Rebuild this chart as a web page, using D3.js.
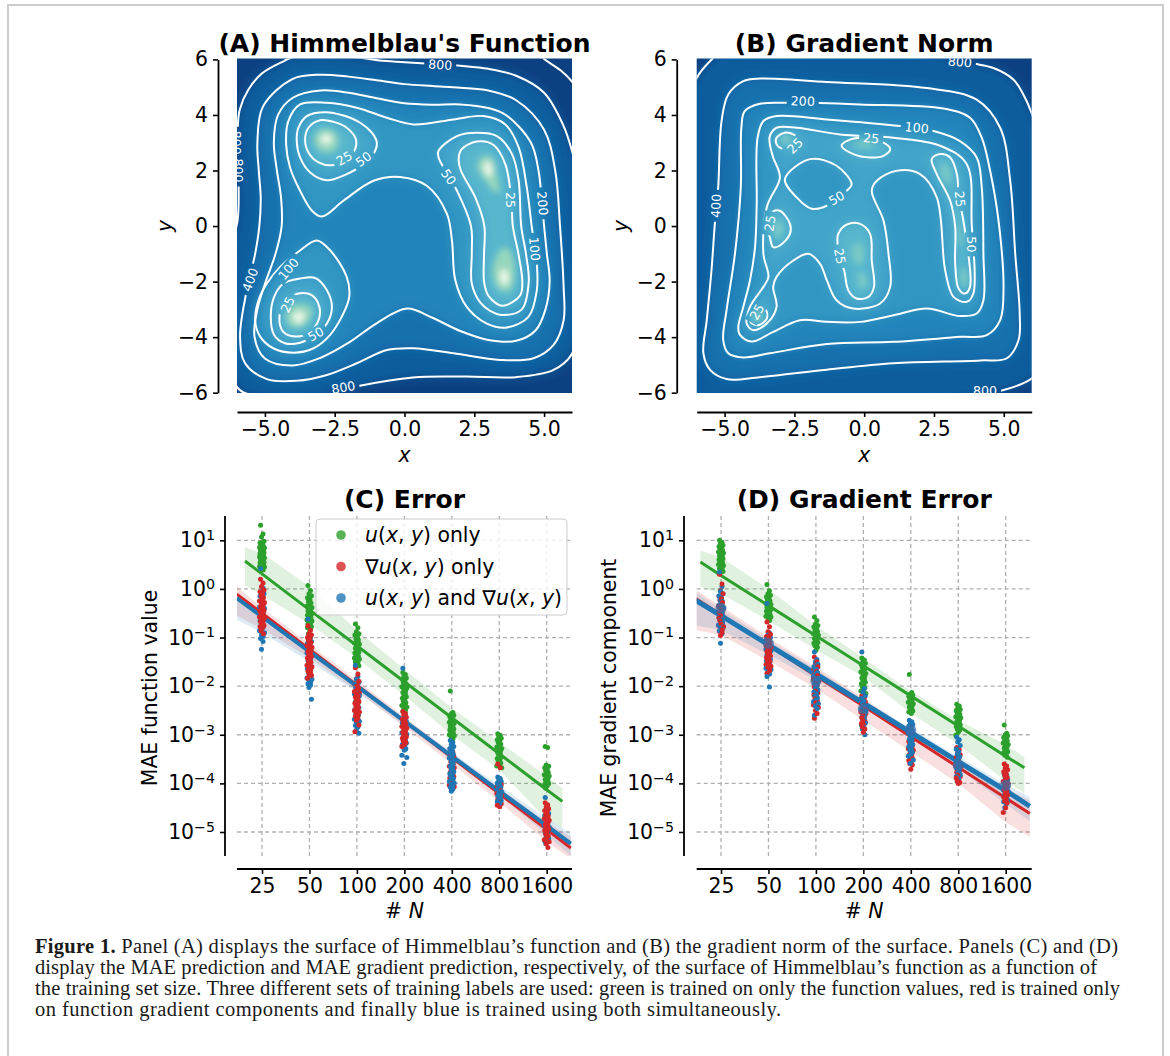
<!DOCTYPE html>
<html>
<head>
<meta charset="utf-8">
<title>Figure 1</title>
<script src="https://cdnjs.cloudflare.com/ajax/libs/d3/7.8.5/d3.min.js"></script>
<style>
body { margin: 0; background: #fff; }
text { font-family: "DejaVu Sans", sans-serif; fill: #000; }
.caption text { font-family: "Liberation Serif", serif; font-size: 20.5px; fill: #1a1a1a; }
</style>
</head>
<body>
<div id="chart"></div>
<script>
// ---- contour lines, [x, y] in data units ----
var aLevel800 = [[-1.5,6.05],[-.9,5.96],[0,5.9],[1.3,5.82],[2,5.77],[3,5.66],[4,5.41],[5,4.8],[5.7,3.6],[6,2.7],[6.2,1.8],[6.27,0],[6.3,-3],[6,-4.6],[5.34,-5.18],[4,-5.44],[2.2,-5.42],[.3,-5.45],[-1.6,-5.75],[-2.6,-6],[-3.2,-6.2],[-4,-6.26],[-5,-6.15],[-5.75,-6],[-6,-5.8],[-6.3,-5],[-6.5,-3],[-6.3,-1],[-5.98,.2],[-5.95,2],[-5.97,3.6],[-5.9,4.2],[-5.6,4.9],[-5.1,5.5],[-4.3,5.95],[-4,6.08],[-3,6.18],[-2,6.1]];
var aLevel1600 = [[4.9,6.1],[5.1,5.94],[5.6,5.6],[6,5.2],[6.2,4.9]];
var aLevel400 = [[-5.2,0],[-5.35,-1],[-5.65,-2.31],[-5.89,-3.98],[-5.71,-4.94],[-4.93,-5.51],[-3.86,-5.57],[-2.78,-5.36],[-1.71,-4.94],[-.63,-4.46],[.32,-4.4],[1.76,-4.58],[3.43,-4.82],[4.62,-4.76],[5.34,-4.28],[5.7,-3.39],[5.7,-2.19],[5.57,0],[5.4,1.99],[5,3.47],[4,4.53],[3,4.88],[2,4.98],[1,5.04],[0,5.11],[-1,5.25],[-2,5.38],[-3,5.45],[-4,5.3],[-5.07,4.3],[-5.27,3],[-5.22,2],[-5.15,1]];
var aLevel200 = [[.09,-2.97],[1,-3.3],[2,-3.78],[3,-4.1],[4,-4.13],[4.7,-3.75],[5.05,-3],[5.2,-2],[5.1,-1],[5,0],[4.91,1],[4.8,2],[4.53,3],[3.63,4],[3,4.25],[2,4.38],[1,4.37],[0,4.42],[-1,4.6],[-2,4.8],[-3,4.88],[-4,4.62],[-4.53,4],[-4.68,3],[-4.57,2],[-4.42,1],[-4.4,0],[-4.62,-1],[-4.97,-2],[-5.27,-3],[-5.37,-4],[-5,-4.77],[-4,-5.02],[-3,-4.74],[-2,-4.2],[-1,-3.5]];
var aLevel100 = [[-2.96,.34],[-2.19,.91],[-1.11,1.63],[-.16,1.77],[.8,1.45],[1.52,.44],[1.7,-.52],[1.82,-1.95],[2.23,-2.91],[2.95,-3.51],[3.67,-3.65],[4.44,-3.27],[4.74,-2.31],[4.74,-1.36],[4.56,-.04],[4.38,1.39],[4.09,2.83],[3.61,3.66],[2.83,3.96],[1.76,3.84],[.32,3.66],[-.63,3.9],[-1.71,4.26],[-2.78,4.44],[-3.74,4.38],[-4.16,3.78],[-4.24,2.94],[-4.1,2.11],[-3.74,1.27],[-3.32,.56]];
var aLevel100Basin = [[-3.14,-.52],[-2.66,-.88],[-2.07,-1.83],[-1.98,-2.55],[-2.25,-3.27],[-2.72,-3.98],[-3.26,-4.4],[-3.98,-4.56],[-4.7,-4.4],[-5.17,-3.98],[-5.35,-3.39],[-5.23,-2.67],[-4.93,-2.07],[-4.46,-1.48],[-3.74,-.88]];
var aLevel50Top = [[-.99,3],[-1.17,3.36],[-1.59,3.72],[-2.19,3.98],[-2.84,4.1],[-3.5,3.96],[-3.8,3.54],[-3.86,3.06],[-3.74,2.47],[-3.38,1.93],[-2.78,1.65],[-2.07,1.87],[-1.47,2.23],[-1.05,2.71]];
var aLevel50Right = [[1.22,2.71],[1.88,3.24],[2.59,3.36],[3.31,3.24],[3.85,2.59],[4.09,1.63],[4.18,0],[4.35,-1],[4.45,-2],[4.2,-3],[3.5,-3.2],[3.07,-3.05],[2.71,-2.75],[2.41,-2.07],[2.41,-1],[2.38,0],[1.88,1.27],[1.58,1.81],[1.22,2.47]];
var aLevel50Low = [[-3.74,-1.89],[-3.2,-1.87],[-2.78,-2.31],[-2.6,-2.91],[-2.78,-3.51],[-3.2,-3.92],[-3.74,-4.2],[-4.28,-4.22],[-4.67,-3.92],[-4.79,-3.27],[-4.67,-2.55],[-4.34,-2.07]];
var aLevel25Top = [[-1.74,3.12],[-2.07,3.54],[-2.54,3.75],[-3.02,3.81],[-3.44,3.54],[-3.56,3.12],[-3.44,2.65],[-3.08,2.29],[-2.6,2.19],[-2.07,2.41],[-1.77,2.77]];
var aLevel25Right = [[2.02,2],[1.94,2.41],[2.05,2.77],[2.59,3.04],[3.19,2.92],[3.61,2.23],[3.82,1],[3.88,0],[4.08,-1],[4.22,-2],[4.14,-2.5],[3.5,-2.87],[3,-2.5],[2.85,-2],[2.85,-1],[2.86,0],[2.55,1]];
var aLevel25Low = [[-3.8,-2.43],[-3.32,-2.49],[-3.05,-2.91],[-3.08,-3.39],[-3.38,-3.81],[-3.86,-3.98],[-4.34,-3.81],[-4.48,-3.27],[-4.28,-2.73],[-4.04,-2.55]];
// brighter cores around the minima, fill only
var aCore10Top = [[-2.35,3.1],[-2.6,3.45],[-3.05,3.45],[-3.25,3.1],[-3,2.7],[-2.55,2.7]];
var aCore10Low = [[-3.3,-3.05],[-3.5,-2.85],[-3.95,-2.85],[-4.25,-3.3],[-4,-3.65],[-3.55,-3.55]];
var aCore10Up = [[2.6,2.1],[2.78,2.5],[3.15,2.45],[3.32,1.75],[3.4,1.2],[3.15,1.3],[2.9,1.65]];
var aCore10Dn = [[3.35,-1],[3.15,-1.6],[3.35,-2.25],[3.75,-2.35],[3.95,-1.8],[3.85,-1.05],[3.6,-.75]];
var aCore2Top = [[-2.6,3.13],[-2.8,3.32],[-3,3.13],[-2.8,2.94]];
var aCore2Low = [[-3.58,-3.28],[-3.78,-3.06],[-4,-3.28],[-3.78,-3.5]];
var aCore2Up = [[2.85,2.15],[3,2.35],[3.15,2],[3,1.75]];
var aCore2Dn = [[3.42,-1.7],[3.58,-1.55],[3.74,-1.9],[3.55,-2.15]];

// ---- contour lines ----
var bLevel800 = [[-6,5.33],[-5.5,5.96],[-5.2,6.2],[-2,6.4],[2,6.3],[2.96,6.05],[3.43,5.93],[3.97,5.84],[4.63,5.69],[5.35,5.27],[5.7,4.74],[5.97,4.14],[6.3,3],[6.4,-3],[6.3,-5],[5.97,-5.51],[4.93,-5.92],[4.2,-6.05],[2,-6.4],[-6.4,-6.4],[-6.4,4]];
var bLevel400 = [[-5.23,1.39],[-5.11,3.78],[-4.87,4.74],[-4.33,5.22],[-3.73,5.31],[-1.34,5.19],[2.24,4.97],[4.03,4.55],[4.87,3.54],[5.23,1.63],[5.41,-1],[5.57,-3.15],[5.53,-4.1],[5.11,-4.76],[4.16,-4.84],[1.05,-4.94],[-1.34,-5.17],[-3.73,-5.44],[-4.93,-5.51],[-5.52,-5.18],[-5.76,-4.58],[-5.64,-3.39],[-5.47,-1.59],[-5.35,.08]];
var bLevel200 = [[-2.78,4.44],[-3.74,4.4],[-4.28,4.14],[-4.4,3.54],[-4.42,1.39],[-4.63,-1],[-4.93,-3.03],[-5.05,-4.1],[-4.87,-4.58],[-4.33,-4.73],[-3.38,-4.58],[-1.34,-4.25],[1.05,-4.17],[3.44,-3.99],[4.39,-3.93],[4.87,-3.39],[4.99,-2.2],[4.81,.2],[4.51,1.99],[4.21,3.18],[3.79,3.9],[2.84,4.23],[-.15,4.38],[-1.6,4.43]];
var bLevel100 = [[2.48,3.42],[3.43,3.06],[4.03,2.47],[4.21,1.39],[4.27,-1],[4.27,-2.67],[4.03,-3.15],[3.43,-3.24],[2.24,-2.97],[1.05,-3.21],[-.15,-3.45],[-1.34,-3.45],[-2.3,-3.39],[-3.26,-3.81],[-4.03,-4.16],[-4.45,-3.92],[-4.51,-3.63],[-4.33,-2.91],[-4.09,-1.95],[-3.91,-.76],[-3.85,.79],[-3.82,3.18],[-3.61,3.78],[-3.14,3.96],[-1.34,3.84],[1.28,3.6]];
var bLevel50 = [[-3.38,3.24],[-3.14,3.54],[-2.42,3.54],[-.87,3.3],[1.05,3.18],[2.72,2.89],[3.67,2.23],[3.85,.08],[3.91,-2.43],[3.67,-2.73],[3.2,-2.55],[2.9,-1.59],[2.6,1.03],[2,1.87],[1.16,1.99],[.45,1.63],[.27,1.27],[.69,.2],[.87,-1],[.93,-2.19],[.57,-2.79],[-.39,-2.97],[-.99,-2.67],[-1.34,-1.95],[-1.58,-1.36],[-2,-1],[-2.54,-1.24],[-3.14,-1.83],[-3.26,-2.19],[-3.14,-2.91],[-3.49,-3.51],[-3.97,-3.75],[-4.21,-3.51],[-4.09,-2.91],[-3.61,-2.19],[-3.43,-1.83],[-3.61,-1],[-3.49,.68],[-3.02,1.75],[-3.26,2.47],[-3.38,2.95]];
var bLevel50Hole = [[-2.84,1.69],[-1.94,2.41],[-.99,2.17],[-.45,1.51],[-.63,1.27],[-1.34,.73],[-1.88,.62],[-2.42,1.03]];
var bLevel25Corner = [[-2.9,2.77],[-3.14,2.95],[-3.14,3.18],[-2.84,3.36],[-2.54,3.3],[-2.24,3],[-2.54,2.77]];
var bLevel25Top = [[-.81,2.89],[-.63,3.06],[-.03,3.18],[.69,3],[.93,2.77],[.69,2.53],[.21,2.47],[-.39,2.59]];
var bLevel25Right = [[2.42,2.41],[2.72,2.59],[3.08,2.47],[3.32,1.87],[3.38,1.15],[3.55,.2],[3.73,-1],[3.79,-2.19],[3.61,-2.43],[3.38,-2.25],[3.26,-1.36],[3.26,-.04],[3.08,.91],[2.6,1.87]];
var bLevel25Left = [[-3.02,.55],[-2.66,.08],[-2.66,-.28],[-3.02,-.7],[-3.26,-.76],[-3.38,-.4],[-3.52,.2],[-3.26,.53]];
var bLevel25Mid = [[-.93,-.28],[-.63,.05],[-.15,.08],[.21,-.28],[.27,-1.24],[.35,-2.19],[.15,-2.55],[-.27,-2.61],[-.57,-2.31],[-.72,-1.59],[-.87,-1.24],[-.96,-.52]];
var bLevel25Low = [[-4.03,-3.09],[-3.79,-2.91],[-3.52,-3.03],[-3.49,-3.33],[-3.79,-3.57],[-4.07,-3.45]];
var bCore15Corner = [[-3,3.2],[-2.8,3.3],[-2.6,3.1],[-2.85,2.95]];
var bCore15Top = [[-.4,3],[0,3.08],[.4,3],[0,2.82]];
var bCore15Up = [[2.75,2.2],[2.95,2.22],[3.1,1.7],[2.95,1.5],[2.8,1.8]];
var bCore15Right = [[3.32,.7],[3.45,0],[3.52,-.7],[3.38,-.6],[3.34,.1]];
var bCore15Dn = [[3.5,-1.5],[3.66,-1.6],[3.68,-2.15],[3.48,-2.1]];
var bCore15Left = [[-3.22,.05],[-3,.18],[-2.92,-.2],[-3.12,-.45]];
var bCore15Mid = [[-.4,-.7],[-.12,-.6],[-.02,-1.2],[-.2,-1.4],[-.38,-1.2]];
var bCore15MidDn = [[-.2,-1.7],[0,-1.7],[.08,-2.15],[-.12,-2.25]];
var bCore15Low = [[-3.95,-3.2],[-3.7,-3.1],[-3.7,-3.33],[-3.9,-3.45]];

// contour labels: text, x, y, angle
var aLabels = [["800",1.28,5.81,3],["800",-5.95,2,90],["800",-6,3,90],["800",-2.19,-5.81,-10],["400",-5.53,-1.93,-70],["200",4.95,.82,85],["100",4.66,-.82,85],["100",-4.16,-1.54,-50],["50",1.58,1.77,55],["25",3.79,.94,90],["25",-2.16,2.44,-30],["50",-1.47,2.41,-35],["25",-4.19,-2.83,-65],["50",-3.18,-3.89,-30]];
var bLabels = [["200",-2.2,4.5,2],["100",1.88,3.54,6],["800",3.43,5.91,5],["800",4.33,-5.92,0],["400",-5.31,.73,-88],["50",-.99,1.01,-30],["50",3.85,-.66,90],["25",-2.48,2.89,-45],["25",.25,3.16,5],["25",3.43,.97,85],["25",-3.38,.1,-80],["25",-.87,-1.09,80],["25",-3.85,-3.09,-60]];

// band value -> position on the colour map
var bandLevels = [2,10,15,25,50,100,200,400,800];
var bandShades = [.03,.42,.5,.6,.67,.72,.78,.85,.91];

// ---- training set sizes and log10 of each scatter point, one row per size ----
var sizes = [25,50,100,200,400,800,1600];

var cGreen = [
[1.31,1.13,1.07,.98,.95,.93,.9,.88,.87,.85,.84,.82,.81,.79,.78,.76,.75,.73,.72,.7,.69,.67,.66,.64,.63,.61,.6,.58,.57,.55,.54,.52,.51,.49,.48,.46,.45,.42,.39],
[.07,-.03,-.1,-.14,-.18,-.22,-.26,-.29,-.32,-.35,-.38,-.4,-.43,-.45,-.48,-.5,-.52,-.54,-.56,-.58,-.6,-.62,-.64,-.66,-.68,-.7,-.72,-.74,-.76,-.78,-.8,-.85,-.92],
[-.72,-.8,-.88,-.92,-.95,-.99,-1.02,-1.05,-1.08,-1.11,-1.14,-1.17,-1.2,-1.22,-1.25,-1.27,-1.3,-1.32,-1.34,-1.36,-1.38,-1.4,-1.42,-1.44,-1.46,-1.48,-1.5,-1.52,-1.54,-1.58],
[-1.72,-1.76,-1.8,-1.83,-1.86,-1.89,-1.92,-1.95,-1.98,-2.01,-2.04,-2.07,-2.1,-2.13,-2.16,-2.19,-2.22,-2.25,-2.28,-2.31,-2.34,-2.37,-2.4,-2.43,-2.46,-2.49,-2.52,-2.56],
[-2.1,-2.54,-2.57,-2.6,-2.63,-2.66,-2.68,-2.7,-2.72,-2.74,-2.76,-2.78,-2.8,-2.82,-2.84,-2.86,-2.88,-2.9,-2.92,-2.94,-2.96,-2.98,-3,-3.02,-3.05,-3.08],
[-2.98,-3.01,-3.04,-3.07,-3.1,-3.13,-3.16,-3.19,-3.22,-3.25,-3.28,-3.31,-3.34,-3.37,-3.4,-3.43,-3.46,-3.49,-3.52,-3.55,-3.58,-3.61,-3.64,-3.68],
[-3.24,-3.26,-3.62,-3.65,-3.68,-3.71,-3.74,-3.77,-3.8,-3.82,-3.85,-3.87,-3.9,-3.92,-3.95,-3.97,-4,-4.02,-4.05,-4.1]];
var cRed = [
[.2,.12,.05,-.02,-.06,-.1,-.14,-.18,-.22,-.25,-.28,-.3,-.33,-.36,-.39,-.42,-.44,-.46,-.48,-.5,-.53,-.55,-.58,-.6,-.62,-.64,-.67,-.7,-.73,-.75,-.78,-.8,-.86,-.92],
[-.76,-.85,-.92,-.95,-1,-1.02,-1.06,-1.1,-1.14,-1.17,-1.2,-1.24,-1.27,-1.3,-1.33,-1.36,-1.39,-1.42,-1.45,-1.48,-1.51,-1.54,-1.57,-1.6,-1.63,-1.66,-1.69,-1.72,-1.75,-1.78,-1.84],
[-1.62,-1.75,-1.85,-1.9,-1.95,-1.99,-2.02,-2.05,-2.08,-2.11,-2.14,-2.17,-2.2,-2.23,-2.26,-2.29,-2.32,-2.35,-2.38,-2.41,-2.44,-2.47,-2.5,-2.53,-2.56,-2.59,-2.62,-2.66,-2.7,-2.8,-2.94],
[-2.52,-2.56,-2.6,-2.64,-2.68,-2.71,-2.74,-2.77,-2.8,-2.83,-2.86,-2.89,-2.92,-2.95,-2.98,-3.01,-3.04,-3.07,-3.1,-3.13,-3.16,-3.2,-3.24],
[-3.3,-3.36,-3.4,-3.44,-3.48,-3.52,-3.56,-3.59,-3.62,-3.65,-3.68,-3.71,-3.74,-3.77,-3.8,-3.83,-3.86,-3.89,-3.92,-3.95,-3.98,-4.01,-4.04,-4.07,-4.1],
[-3.6,-3.68,-4,-4.03,-4.06,-4.09,-4.12,-4.15,-4.18,-4.21,-4.24,-4.27,-4.3,-4.33,-4.36,-4.39,-4.42,-4.45,-4.48],
[-4.4,-4.44,-4.48,-4.52,-4.56,-4.6,-4.64,-4.67,-4.7,-4.73,-4.76,-4.79,-4.82,-4.85,-4.88,-4.91,-4.94,-4.97,-5,-5.04,-5.08,-5.12,-5.16,-5.2,-5.24,-5.32]];
var cBlue = [
[.42,.02,-.05,-.1,-.15,-.2,-.25,-.29,-.33,-.37,-.4,-.44,-.48,-.52,-.56,-.6,-.63,-.66,-.7,-.74,-.78,-.82,-.86,-.9,-.94,-.98,-1.02,-1.08,-1.24],
[-.62,-1,-1.04,-1.08,-1.12,-1.16,-1.2,-1.24,-1.28,-1.32,-1.36,-1.4,-1.44,-1.48,-1.52,-1.56,-1.6,-1.64,-1.68,-1.72,-1.76,-1.8,-1.83,-1.86,-1.89,-1.92,-1.95,-1.98,-2.03,-2.27],
[-1.57,-1.8,-1.86,-1.92,-1.96,-2,-2.04,-2.08,-2.12,-2.16,-2.2,-2.24,-2.28,-2.32,-2.36,-2.4,-2.44,-2.48,-2.52,-2.56,-2.6,-2.64,-2.68,-2.72,-2.75,-2.78,-2.81,-2.84,-2.9,-2.97],
[-1.63,-2.62,-2.67,-2.72,-2.76,-2.8,-2.84,-2.88,-2.92,-2.96,-2.99,-3.02,-3.05,-3.08,-3.11,-3.14,-3.17,-3.2,-3.23,-3.26,-3.29,-3.32,-3.42,-3.47,-3.59],
[-3.12,-3.16,-3.2,-3.24,-3.28,-3.32,-3.36,-3.4,-3.44,-3.48,-3.52,-3.56,-3.6,-3.64,-3.68,-3.72,-3.76,-3.8,-3.84,-3.87,-3.9,-3.93,-3.96,-3.99,-4.02,-4.05,-4.08,-4.12,-4.16],
[-3.87,-3.9,-3.93,-3.96,-3.99,-4.02,-4.05,-4.08,-4.11,-4.14,-4.17,-4.2,-4.23,-4.26,-4.29,-4.32,-4.35,-4.38,-4.41],
[-4.29,-4.5,-4.56,-4.62,-4.66,-4.7,-4.74,-4.78,-4.82,-4.86,-4.9,-4.94,-4.98,-5.02,-5.06,-5.1,-5.14,-5.18,-5.21,-5.24]];

var dGreen = [
[1,.96,.93,.9,.87,.85,.82,.8,.78,.76,.74,.72,.7,.68,.66,.64,.62,.6,.58,.56,.54,.52,.5,.48,.46,.44,.42,.4,.38,.36,.32],
[.09,-.04,-.1,-.13,-.16,-.19,-.22,-.25,-.28,-.3,-.32,-.34,-.36,-.38,-.4,-.42,-.44,-.46,-.48,-.5,-.52,-.54,-.56,-.58,-.6,-.65],
[-.58,-.65,-.72,-.75,-.78,-.81,-.84,-.87,-.9,-.92,-.95,-.97,-1,-1.02,-1.05,-1.07,-1.1,-1.12,-1.15,-1.17,-1.2,-1.26],
[-1.42,-1.46,-1.5,-1.53,-1.56,-1.59,-1.62,-1.65,-1.68,-1.71,-1.74,-1.77,-1.8,-1.83,-1.86,-1.89,-1.92,-1.95,-1.98,-2.01,-2.04,-2.07,-2.1,-2.15],
[-1.76,-2.13,-2.16,-2.18,-2.21,-2.23,-2.26,-2.28,-2.31,-2.33,-2.36,-2.38,-2.41,-2.43,-2.46,-2.48,-2.51,-2.53,-2.56],
[-2.37,-2.41,-2.45,-2.48,-2.5,-2.53,-2.55,-2.58,-2.6,-2.63,-2.65,-2.68,-2.7,-2.73,-2.75,-2.78,-2.8,-2.83,-2.85,-2.88,-2.9,-2.95,-3.01],
[-2.8,-2.97,-3,-3.02,-3.05,-3.07,-3.1,-3.12,-3.15,-3.17,-3.2,-3.22,-3.25,-3.27,-3.3,-3.32,-3.35,-3.37,-3.4,-3.42,-3.46]];
var dRed = [
[.3,.1,-.03,-.1,-.15,-.2,-.24,-.28,-.32,-.36,-.39,-.42,-.45,-.48,-.51,-.54,-.57,-.6,-.63,-.66,-.69,-.72,-.75,-.78,-.81,-.84,-.87,-.9,-.96],
[-.68,-.78,-.88,-.93,-.98,-1.02,-1.06,-1.1,-1.14,-1.17,-1.2,-1.23,-1.26,-1.29,-1.32,-1.35,-1.38,-1.41,-1.44,-1.47,-1.5,-1.53,-1.56,-1.59,-1.62,-1.68,-1.74],
[-1.4,-1.5,-1.55,-1.6,-1.65,-1.7,-1.74,-1.78,-1.82,-1.86,-1.9,-1.94,-1.98,-2.02,-2.06,-2.1,-2.14,-2.18,-2.22,-2.26,-2.3,-2.34,-2.39,-2.44,-2.5,-2.56,-2.66],
[-2.2,-2.24,-2.28,-2.32,-2.36,-2.4,-2.44,-2.47,-2.5,-2.53,-2.56,-2.59,-2.62,-2.65,-2.68,-2.71,-2.74,-2.77,-2.8,-2.84,-2.88,-2.95],
[-2.98,-3.02,-3.06,-3.1,-3.14,-3.17,-3.2,-3.23,-3.26,-3.29,-3.32,-3.35,-3.38,-3.41,-3.44,-3.47,-3.5,-3.53,-3.56,-3.59,-3.62,-3.71],
[-3.26,-3.31,-3.36,-3.41,-3.46,-3.5,-3.54,-3.58,-3.62,-3.65,-3.68,-3.71,-3.74,-3.77,-3.8,-3.83,-3.86,-3.89,-3.92,-3.95,-3.98,-4],
[-3.6,-3.64,-3.68,-3.72,-3.76,-3.8,-3.84,-3.88,-3.92,-3.96,-4,-4.04,-4.08,-4.12,-4.16,-4.2,-4.24,-4.28,-4.32,-4.36,-4.4,-4.5,-4.6]];
var dBlue = [
[.35,.05,-.05,-.1,-.14,-.18,-.22,-.26,-.3,-.34,-.38,-.41,-.44,-.47,-.5,-.53,-.56,-.59,-.62,-.65,-.68,-.71,-.74,-.77,-.8,-.83,-.86,-.92,-1.12],
[-.3,-.9,-.95,-1,-1.04,-1.08,-1.12,-1.16,-1.2,-1.24,-1.27,-1.3,-1.33,-1.36,-1.39,-1.42,-1.45,-1.48,-1.51,-1.54,-1.57,-1.6,-1.63,-1.66,-1.7,-1.75,-1.8,-2.02],
[-1.3,-1.45,-1.5,-1.55,-1.6,-1.65,-1.69,-1.72,-1.76,-1.8,-1.84,-1.88,-1.92,-1.96,-2,-2.04,-2.08,-2.12,-2.16,-2.2,-2.24,-2.28,-2.32,-2.36,-2.41,-2.46,-2.6],
[-1.3,-2.05,-2.12,-2.2,-2.25,-2.3,-2.35,-2.4,-2.44,-2.48,-2.52,-2.56,-2.6,-2.64,-2.68,-2.72,-2.76,-2.8,-2.84,-2.88,-3],
[-2.7,-2.73,-2.76,-2.79,-2.82,-2.85,-2.88,-2.91,-2.94,-2.97,-3,-3.03,-3.06,-3.09,-3.12,-3.16,-3.2,-3.24,-3.28,-3.32,-3.36,-3.4,-3.44,-3.52,-3.59],
[-3.05,-3.1,-3.15,-3.22,-3.3,-3.35,-3.4,-3.45,-3.5,-3.54,-3.58,-3.62,-3.66,-3.7,-3.74,-3.78,-3.82,-3.86,-3.9,-3.96],
[-3.8,-3.84,-3.88,-3.92,-3.96,-4,-4.04,-4.07,-4.1,-4.13,-4.16,-4.19,-4.22,-4.25,-4.28,-4.31,-4.34,-4.38,-4.42,-4.5]];
var dBlueCentres = [-.4,-1.12,-1.9,-2.46,-2.9,-3.63,-4.04];

// ---- fit lines and their bands, log10 at each N ----
var greenFitC = [19.5,25,50,100,200,400,800,1600,2011];
var cGreenLine = [.574,.31,-.43,-1.17,-1.91,-2.65,-3.39,-4.13,-4.37];
var cGreenHi = [.86,.74,.05,-.85,-1.65,-2.45,-3.15,-3.85,-4.1];
var cGreenLo = [.07,-.12,-.72,-1.42,-2.2,-3,-3.72,-4.75,-4.93];
var wideFit = [17.3,25,50,100,200,400,800,1600,2275];
var cBlueLine = [-.19,-.57,-1.29,-2,-2.72,-3.44,-4.16,-4.87,-5.24];
var cBlueHi = [-.08,-.47,-1.2,-1.93,-2.66,-3.36,-4.05,-4.72,-5.03];
var cBlueLo = [-.63,-.9,-1.5,-2.12,-2.8,-3.52,-4.25,-5.05,-5.5];
var cRedLine = [-.11,-.5,-1.24,-1.98,-2.72,-3.47,-4.21,-4.95,-5.33];
var cRedHi = [.05,-.38,-1.14,-1.88,-2.63,-3.38,-4.1,-4.8,-5.1];
var cRedLo = [-.55,-.82,-1.42,-2.1,-2.84,-3.6,-4.38,-5.2,-5.55];
var greenFitD = [18.5,25,50,100,200,400,800,1600,2102];
var dGreenLine = [.553,.275,-.344,-.963,-1.58,-2.2,-2.82,-3.44,-3.68];
var dGreenHi = [.79,.65,0,-.75,-1.42,-2.1,-2.7,-3.2,-3.46];
var dGreenLo = [.04,-.1,-.65,-1.25,-1.8,-2.55,-3.2,-3.95,-4.2];
var dBlueLine = [-.235,-.55,-1.15,-1.75,-2.35,-2.95,-3.55,-4.15,-4.47];
var dBlueHi = [-.06,-.42,-1.05,-1.65,-2.28,-2.87,-3.45,-4.02,-4.28];
var dBlueLo = [-.75,-.85,-1.35,-1.88,-2.42,-3.05,-3.7,-4.42,-4.78];
var dRedLine = [-.2,-.53,-1.16,-1.79,-2.41,-3.04,-3.67,-4.3,-4.62];
var dRedHi = [-.02,-.35,-1,-1.6,-2.25,-2.9,-3.5,-4.1,-4.35];
var dRedLo = [-.85,-.95,-1.48,-2.05,-2.7,-3.35,-4,-4.8,-5.1];

var errorTicks = [1e-5,1e-4,1e-3,1e-2,1e-1,1,10];
var surfaceTicksX = [-5,-2.5,0,2.5,5];
var surfaceTicksY = [-6,-4,-2,0,2,4,6];
var captionLines = [
  " Panel (A) displays the surface of Himmelblau’s function and (B) the gradient norm of the surface. Panels (C) and (D)",
  "display the MAE prediction and MAE gradient prediction, respectively, of the surface of Himmelblau’s function as a function of",
  "the training set size. Three different sets of training labels are used: green is trained on only the function values, red is trained only",
  "on function gradient components and finally blue is trained using both simultaneously."
];
var captionWidths = [1083,1062,1085,746];

var GREEN = "#2ca02c", RED = "#d62728", BLUE = "#1f77b4";
var TICK_FONT = 20.4;
// fixed sideways offset of the strip dots, cycled
var stripOffset = [-1.5,1,-.5,2,-2,.5,-1,1.5,0,-2.5,2.5,-.5,1.2];

var svg = d3.select("#chart").append("svg")
  .attr("width", 1170).attr("height", 1056)
  .style("display", "block");

// page frame
svg.append("rect").attr("x", 8).attr("y", 5).attr("width", 1155).attr("height", 1100)
  .attr("fill", "none").attr("stroke", "#cccccc").attr("stroke-width", 2);

var defs = svg.append("defs");
function blurFilter(id, amount) {
  defs.append("filter").attr("id", id)
    .attr("filterUnits", "userSpaceOnUse")
    .attr("x", 100).attr("y", -100).attr("width", 1100).attr("height", 700)
    .append("feGaussianBlur").attr("stdDeviation", amount);
}
blurFilter("soften", 5.5);
blurFilter("softenCore", 3.2);

var bandShade = d3.scaleOrdinal(bandLevels, bandShades);

function styleAxis(g, size) {
  g.selectAll(".domain").attr("stroke-width", 1.8).attr("stroke", "#000");
  g.selectAll(".tick line").attr("stroke-width", 1.6).attr("stroke", "#000");
  g.selectAll(".tick text").attr("font-size", size).attr("font-family", "DejaVu Sans");
}

function surfacePanel(id, left, axisX, title, yLabelX, table, labels) {
  var x = d3.scaleLinear().domain([-6, 6]).range([left, left + 335]);
  var y = d3.scaleLinear().domain([-6, 6]).range([392.7, 59.4]);
  var g = svg.append("g");

  defs.append("clipPath").attr("id", "clip" + id).append("rect")
    .attr("x", left).attr("y", 58.4).attr("width", 335).attr("height", 334.6);

  // gaps in the contour lines behind the labels
  var mask = defs.append("mask").attr("id", "gaps" + id)
    .attr("maskUnits", "userSpaceOnUse")
    .attr("x", left - 60).attr("y", 0).attr("width", 460).attr("height", 460);
  mask.append("rect").attr("x", left - 60).attr("y", 0).attr("width", 460).attr("height", 460).attr("fill", "#fff");
  labels.forEach(function(d) {
    var w = d[0].length * 8 + 8;
    mask.append("rect").attr("x", -w / 2).attr("y", -7).attr("width", w).attr("height", 14).attr("fill", "#000")
      .attr("transform", "translate(" + x(d[1]) + "," + y(d[2]) + ") rotate(" + d[3] + ")");
  });

  var closed = d3.line().x(function(d) { return x(d[0]); }).y(function(d) { return y(d[1]); })
    .curve(d3.curveCatmullRomClosed.alpha(.5));
  var open = d3.line().x(function(d) { return x(d[0]); }).y(function(d) { return y(d[1]); })
    .curve(d3.curveCatmullRom.alpha(.5));

  var plot = g.append("g").attr("clip-path", "url(#clip" + id + ")");
  var heat = plot.append("g").attr("filter", "url(#soften)");
  var core = plot.append("g").attr("filter", "url(#softenCore)");
  heat.append("rect").attr("x", left - 30).attr("y", 30).attr("width", 395).attr("height", 395)
    .attr("fill", d3.interpolateGnBu(1));
  table.forEach(function(c) {
    if (c.open) return;
    (c.band < 25 ? core : heat).append("path").attr("d", closed(c.pts))
      .attr("fill", d3.interpolateGnBu(bandShade(c.band)));
  });

  var lines = plot.append("g").attr("mask", "url(#gaps" + id + ")");
  table.forEach(function(c) {
    if (!c.line) return;
    lines.append("path").attr("d", c.open ? open(c.pts) : closed(c.pts))
      .attr("fill", "none").attr("stroke", "#fff").attr("stroke-width", 2);
  });

  plot.append("g").selectAll("text").data(labels).enter().append("text")
    .attr("transform", function(d) { return "translate(" + x(d[1]) + "," + y(d[2]) + ") rotate(" + d[3] + ")"; })
    .attr("text-anchor", "middle").attr("dy", "0.36em")
    .attr("font-size", 12.6).style("fill", "#fff")
    .text(function(d) { return d[0]; });

  var xa = g.append("g").attr("transform", "translate(0,412)")
    .call(d3.axisBottom(x).tickValues(surfaceTicksX).tickSize(5).tickSizeOuter(0).tickPadding(5)
      .tickFormat(function(d) { return d3.format(".1f")(d).replace("-", "−"); }));
  styleAxis(xa, TICK_FONT);
  var ya = g.append("g").attr("transform", "translate(" + axisX + ",0)")
    .call(d3.axisLeft(y).tickValues(surfaceTicksY).tickSize(5).tickSizeOuter(0).tickPadding(5)
      .tickFormat(function(d) { return String(d).replace("-", "−"); }));
  styleAxis(ya, TICK_FONT);

  g.append("text").attr("x", left + 167.5).attr("y", 52).attr("text-anchor", "middle")
    .attr("font-size", 25).attr("font-weight", "bold").text(title);
  g.append("text").attr("x", left + 167.5).attr("y", 462).attr("text-anchor", "middle")
    .attr("font-size", TICK_FONT).attr("font-style", "italic").text("x");
  g.append("text").attr("transform", "translate(" + yLabelX + ",226) rotate(-90)").attr("text-anchor", "middle")
    .attr("font-size", TICK_FONT).attr("font-style", "italic").text("y");
}

function errorPanel(left, axisX, title, yLabel, yLabelX, tickRange, series, centres, blueWidth) {
  var x = d3.scaleLog().base(2).domain([25, 1600]).range(tickRange);
  var y = d3.scaleLog().domain([1e-5, 10]).range([832, 540.3]);
  var g = svg.append("g");
  var right = left + 335;

  g.append("g").selectAll("line").data(errorTicks).enter().append("line")
    .attr("x1", left).attr("x2", right)
    .attr("y1", function(d) { return y(d); }).attr("y2", function(d) { return y(d); })
    .attr("stroke", "#b0b0b0").attr("stroke-width", 1.3).attr("stroke-dasharray", "4,3");
  g.append("g").selectAll("line").data(sizes).enter().append("line")
    .attr("x1", function(d) { return x(d); }).attr("x2", function(d) { return x(d); })
    .attr("y1", 516).attr("y2", 856)
    .attr("stroke", "#b0b0b0").attr("stroke-width", 1.3).attr("stroke-dasharray", "4,3");

  defs.append("clipPath").attr("id", "clipErr" + left).append("rect")
    .attr("x", left).attr("y", 516).attr("width", 335).attr("height", 340);
  var plot = g.append("g").attr("clip-path", "url(#clipErr" + left + ")");

  series.forEach(function(s) {
    var band = d3.area().x(function(d, i) { return x(s.fitN[i]); })
      .y0(function(d, i) { return y(Math.pow(10, s.lo[i])); })
      .y1(function(d, i) { return y(Math.pow(10, s.hi[i])); });
    plot.append("path").attr("d", band(s.fitN)).attr("fill", s.color).attr("fill-opacity", .15);
  });

  series.forEach(function(s) {
    var fit = d3.line().x(function(d, i) { return x(s.fitN[i]); })
      .y(function(d) { return y(Math.pow(10, d)); });
    plot.append("path").attr("d", fit(s.line)).attr("fill", "none")
      .attr("stroke", s.color).attr("stroke-width", s.color === BLUE ? blueWidth : 3);
  });

  // green first, then red and blue mixed so neither hides the other
  var dots = [];
  series.forEach(function(s, j) {
    s.points.forEach(function(row, k) {
      row.forEach(function(v, i) {
        dots.push({size: sizes[k], value: v, i: i, color: s.color, layer: j === 0 ? 0 : (i + 1) * 2 + (j === 1 ? (i % 2) * 3 : 0)});
      });
    });
  });
  dots.sort(function(a, b) { return a.layer - b.layer; });
  plot.append("g").selectAll("circle").data(dots).enter().append("circle")
    .attr("cx", function(d) { return x(d.size) + stripOffset[d.i % stripOffset.length]; })
    .attr("cy", function(d) { return y(Math.pow(10, d.value)); })
    .attr("r", 2.5).attr("fill", function(d) { return d.color; });

  if (centres) {
    plot.append("g").selectAll("circle").data(centres).enter().append("circle")
      .attr("cx", function(d, i) { return x(sizes[i]); })
      .attr("cy", function(d) { return y(Math.pow(10, d)); })
      .attr("r", 5.5).attr("fill", "#3b6ea8").attr("fill-opacity", .7);
  }

  var xa = g.append("g").attr("transform", "translate(0,869)")
    .call(d3.axisBottom(x).tickValues(sizes).tickSize(5).tickSizeOuter(0).tickPadding(5)
      .tickFormat(function(d) { return d; }));
  xa.select(".domain").attr("d", "M" + left + ",0H" + right);
  styleAxis(xa, TICK_FONT);

  g.append("line").attr("x1", axisX).attr("x2", axisX).attr("y1", 516).attr("y2", 856)
    .attr("stroke", "#000").attr("stroke-width", 1.8);
  var ya = g.append("g").attr("transform", "translate(" + axisX + ",0)")
    .call(d3.axisLeft(y).tickValues(errorTicks).tickSize(5).tickSizeOuter(0).tickPadding(5)
      .tickFormat(function() { return ""; }));
  ya.select(".domain").remove();
  styleAxis(ya, TICK_FONT);
  ya.selectAll(".tick text").each(function(d) {
    var t = d3.select(this);
    var e = Math.round(Math.log10(d));
    t.append("tspan").text("10");
    t.append("tspan").attr("font-size", 14.2).attr("dy", "-0.5em").text(String(e).replace("-", "−"));
  });

  g.append("text").attr("x", left + 167.5).attr("y", 508).attr("text-anchor", "middle")
    .attr("font-size", 25).attr("font-weight", "bold").text(title);
  var nLabel = g.append("text").attr("x", left + 167.5).attr("y", 918).attr("text-anchor", "middle").attr("font-size", TICK_FONT);
  nLabel.append("tspan").text("# ");
  nLabel.append("tspan").attr("font-style", "italic").text("N");
  g.append("text").attr("transform", "translate(" + yLabelX + ",688) rotate(-90)").attr("text-anchor", "middle")
    .attr("font-size", TICK_FONT).text(yLabel);
}

function legendBox() {
  var g = svg.append("g");
  g.append("rect").attr("x", 316).attr("y", 519).attr("width", 251).attr("height", 96).attr("rx", 4)
    .attr("fill", "#fff").attr("fill-opacity", .8).attr("stroke", "#ccc").attr("stroke-width", 1);
  var entries = [
    {color: GREEN, parts: [["u",1],["(",0],["x",1],[", ",0],["y",1],[") only",0]]},
    {color: RED, parts: [["∇",0],["u",1],["(",0],["x",1],[", ",0],["y",1],[") only",0]]},
    {color: BLUE, parts: [["u",1],["(",0],["x",1],[", ",0],["y",1],[") and ∇",0],["u",1],["(",0],["x",1],[", ",0],["y",1],[")",0]]}
  ];
  var rowY = d3.scalePoint().domain([0, 1, 2]).range([535, 598]);
  entries.forEach(function(e, i) {
    g.append("circle").attr("cx", 341).attr("cy", rowY(i)).attr("r", 4.8)
      .attr("fill", e.color).attr("fill-opacity", .8);
    var t = g.append("text").attr("x", 365).attr("y", rowY(i)).attr("dy", "0.36em").attr("font-size", 20.4);
    e.parts.forEach(function(p) {
      t.append("tspan").attr("font-style", p[1] ? "italic" : "normal").text(p[0]);
    });
  });
}

var tableA = [
  {pts: aLevel1600, open: true, line: true},
  {pts: aLevel800, band: 800, line: true},
  {pts: aLevel400, band: 400, line: true},
  {pts: aLevel200, band: 200, line: true},
  {pts: aLevel100, band: 100, line: true},
  {pts: aLevel100Basin, band: 100, line: true},
  {pts: aLevel50Top, band: 50, line: true},
  {pts: aLevel50Right, band: 50, line: true},
  {pts: aLevel50Low, band: 50, line: true},
  {pts: aLevel25Top, band: 25, line: true},
  {pts: aLevel25Right, band: 25, line: true},
  {pts: aLevel25Low, band: 25, line: true},
  {pts: aCore10Top, band: 10}, {pts: aCore10Low, band: 10}, {pts: aCore10Up, band: 10}, {pts: aCore10Dn, band: 10},
  {pts: aCore2Top, band: 2}, {pts: aCore2Low, band: 2}, {pts: aCore2Up, band: 2}, {pts: aCore2Dn, band: 2}
];
var tableB = [
  {pts: bLevel800, band: 800, line: true},
  {pts: bLevel400, band: 400, line: true},
  {pts: bLevel200, band: 200, line: true},
  {pts: bLevel100, band: 100, line: true},
  {pts: bLevel50, band: 50, line: true},
  {pts: bLevel50Hole, band: 100, line: true},
  {pts: bLevel25Corner, band: 25, line: true},
  {pts: bLevel25Top, band: 25, line: true},
  {pts: bLevel25Right, band: 25, line: true},
  {pts: bLevel25Left, band: 25, line: true},
  {pts: bLevel25Mid, band: 25, line: true},
  {pts: bLevel25Low, band: 25, line: true},
  {pts: bCore15Corner, band: 15}, {pts: bCore15Top, band: 15}, {pts: bCore15Up, band: 15}, {pts: bCore15Right, band: 15},
  {pts: bCore15Dn, band: 15}, {pts: bCore15Left, band: 15}, {pts: bCore15Mid, band: 15}, {pts: bCore15MidDn, band: 15},
  {pts: bCore15Low, band: 15}
];

surfacePanel("A", 237, 218, "(A) Himmelblau's Function", 172, tableA, aLabels);
surfacePanel("B", 696.7, 676.7, "(B) Gradient Norm", 628, tableB, bLabels);

errorPanel(237, 225, "(C) Error", "MAE function value", 157, [262, 546.7], [
  {color: GREEN, points: cGreen, fitN: greenFitC, line: cGreenLine, hi: cGreenHi, lo: cGreenLo},
  {color: RED, points: cRed, fitN: wideFit, line: cRedLine, hi: cRedHi, lo: cRedLo},
  {color: BLUE, points: cBlue, fitN: wideFit, line: cBlueLine, hi: cBlueHi, lo: cBlueLo}
], null, 4);
errorPanel(696.7, 684, "(D) Gradient Error", "MAE gradient component", 616, [721, 1005.7], [
  {color: GREEN, points: dGreen, fitN: greenFitD, line: dGreenLine, hi: dGreenHi, lo: dGreenLo},
  {color: RED, points: dRed, fitN: wideFit, line: dRedLine, hi: dRedHi, lo: dRedLo},
  {color: BLUE, points: dBlue, fitN: wideFit, line: dBlueLine, hi: dBlueHi, lo: dBlueLo}
], dBlueCentres, 5);

legendBox();

// caption
var capRows = d3.scalePoint().domain([0, 1, 2, 3]).range([953, 1016]);
var cap = svg.append("g").attr("class", "caption");
captionLines.forEach(function(line, i) {
  var t = cap.append("text").attr("x", 35).attr("y", capRows(i))
    .attr("textLength", captionWidths[i]).attr("lengthAdjust", "spacing");
  if (i === 0) t.append("tspan").attr("font-weight", "bold").text("Figure 1.");
  t.append("tspan").text(line);
});
</script>
</body>
</html>
